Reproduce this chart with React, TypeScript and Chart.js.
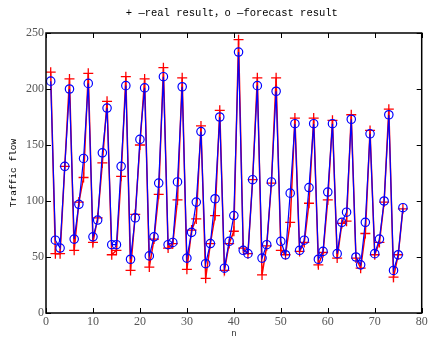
import React, { useEffect, useRef } from "react";
import { Chart, registerables } from "chart.js";

Chart.register(...registerables);

// Real (measured) traffic flow, n = 1..76
const realResult = [
  215, 53, 53, 131, 209, 56, 99, 121, 214, 63,
  85, 134, 189, 52, 56, 122, 211, 38, 88, 150,
  209, 41, 66, 106, 219, 58, 62, 101, 210, 39,
  74, 84, 167, 31, 62, 87, 181, 38, 62, 73,
  244, 58, 53, 119, 210, 34, 60, 116, 210, 56,
  52, 81, 174, 55, 63, 98, 174, 43, 54, 101,
  172, 49, 80, 82, 177, 49, 40, 71, 163, 52,
  63, 99, 182, 32, 52, 93,
];

// Forecast traffic flow, n = 1..76
const forecastResult = [
  207, 65, 58, 131, 200, 66, 97, 138, 205, 68,
  83, 143, 183, 61, 61, 131, 203, 48, 85, 155,
  201, 51, 68, 116, 211, 61, 63, 117, 202, 49,
  72, 99, 162, 44, 62, 102, 175, 40, 64, 87,
  233, 56, 53, 119, 203, 49, 61, 117, 198, 64,
  52, 107, 169, 56, 65, 112, 169, 48, 55, 108,
  169, 53, 81, 90, 173, 50, 43, 81, 160, 53,
  66, 100, 177, 38, 52, 94,
];

const nValues = realResult.map((_, i) => i + 1);

const xTicks = [0, 10, 20, 30, 40, 50, 60, 70, 80];
const yTicks = [0, 50, 100, 150, 200, 250];

const titleText = "+ \u2014real result\uff0co \u2014forecast result";
const yLabel = "Traffic flow";
const xLabel = "n";

const boxPlugin = {
  id: "matlabBox",
  afterDraw(chart: any) {
    const { ctx, chartArea: a, scales } = chart;
    ctx.save();
    ctx.strokeStyle = "#000";
    ctx.lineWidth = 1;
    const L = 5;
    ctx.beginPath();
    scales.x.ticks.forEach((t: any) => {
      const px = Math.round(scales.x.getPixelForValue(t.value)) + 0.5;
      ctx.moveTo(px, a.bottom);
      ctx.lineTo(px, a.bottom - L);
      ctx.moveTo(px, a.top);
      ctx.lineTo(px, a.top + L);
    });
    scales.y.ticks.forEach((t: any) => {
      const py = Math.round(scales.y.getPixelForValue(t.value)) + 0.5;
      ctx.moveTo(a.left, py);
      ctx.lineTo(a.left + L, py);
      ctx.moveTo(a.right, py);
      ctx.lineTo(a.right - L, py);
    });
    ctx.stroke();
    ctx.lineWidth = 1.5;
    ctx.strokeRect(a.left, a.top, a.right - a.left, a.bottom - a.top);
    ctx.fillStyle = "#000";
    ctx.font = "10.5px 'Liberation Mono', 'Noto Sans CJK SC', monospace";
    ctx.textAlign = "center";
    ctx.textBaseline = "middle";
    ctx.fillText(titleText, (a.left + a.right) / 2 - 2, 13);
    ctx.restore();
  },
};

export default function App() {
  const canvasRef = useRef<HTMLCanvasElement | null>(null);

  useEffect(() => {
    if (!canvasRef.current) return;
    const chart = new Chart(canvasRef.current, {
      type: "line",
      data: {
        datasets: [
          {
            label: "forecast result",
            data: nValues.map((n, i) => ({ x: n, y: forecastResult[i] })),
            borderColor: "#0000ff",
            borderWidth: 1.2,
            pointStyle: "circle",
            pointRadius: 4.2,
            pointBorderColor: "#0000ff",
            pointBorderWidth: 1.2,
            pointBackgroundColor: "rgba(0,0,0,0)",
            tension: 0,
          },
          {
            label: "real result",
            data: nValues.map((n, i) => ({ x: n, y: realResult[i] })),
            borderColor: "#ff0000",
            borderWidth: 1.5,
            pointStyle: "cross",
            pointRadius: 5,
            pointBorderColor: "#ff0000",
            pointBorderWidth: 1.3,
            pointBackgroundColor: "#ff0000",
            tension: 0,
          },
        ],
      },
      options: {
        animation: false,
        responsive: false,
        maintainAspectRatio: false,
        layout: { padding: { top: 33, right: 3, left: 0, bottom: 0 } },
        plugins: {
          legend: { display: false },
          tooltip: { enabled: false },
          title: { display: false },
        },
        scales: {
          x: {
            type: "linear",
            min: 0,
            max: 80,
            afterBuildTicks: (s: any) => {
              s.ticks = xTicks.map((v) => ({ value: v }));
            },
            afterFit: (s: any) => {
              s.height = 26;
              s.paddingRight = 0;
              s.paddingLeft = 0;
            },
            grid: { display: false, drawTicks: false },
            border: { display: false },
            ticks: {
              padding: 2,
              color: "#555",
              font: { family: "'Liberation Serif', serif", size: 12 },
              maxRotation: 0,
            },
            title: {
              display: true,
              text: xLabel,
              color: "#333",
              font: { family: "'Liberation Mono', monospace", size: 9 },
              padding: { top: 0, bottom: 0 },
            },
          },
          y: {
            type: "linear",
            min: 0,
            max: 250,
            afterBuildTicks: (s: any) => {
              s.ticks = yTicks.map((v) => ({ value: v }));
            },
            afterFit: (s: any) => {
              s.width = 46;
              s.paddingTop = 0;
              s.paddingBottom = 0;
            },
            grid: { display: false, drawTicks: false },
            border: { display: false },
            ticks: {
              padding: 2,
              color: "#555",
              font: { family: "'Liberation Serif', serif", size: 12 },
            },
            title: {
              display: true,
              text: yLabel,
              color: "#000",
              font: { family: "'Liberation Mono', monospace", size: 9.5 },
              padding: { top: 8, bottom: 0 },
            },
          },
        },
      },
      plugins: [boxPlugin],
    });
    return () => chart.destroy();
  }, []);

  return (
    <div style={{ position: "fixed", left: 0, top: 0, width: 428, height: 339, background: "#fff" }}>
      <canvas ref={canvasRef} width={428} height={339} style={{ display: "block" }} />
    </div>
  );
}
